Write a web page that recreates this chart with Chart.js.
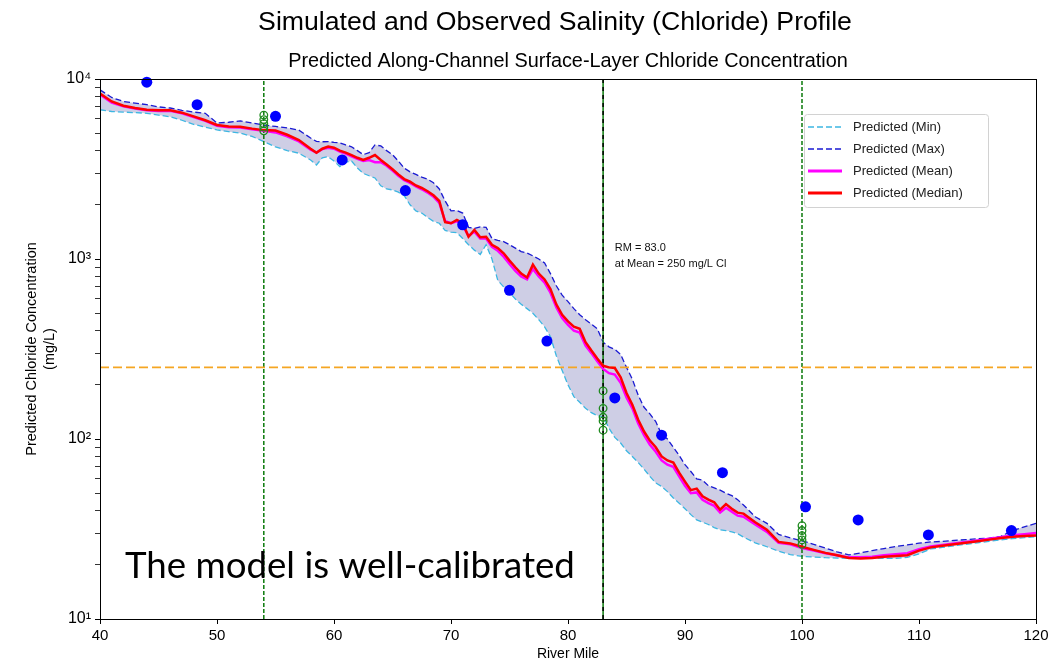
<!DOCTYPE html>
<html>
<head>
<meta charset="utf-8">
<script src="https://cdn.jsdelivr.net/npm/chart.js@4.4.1/dist/chart.umd.min.js"></script>
<style>
  html, body { margin: 0; padding: 0; background: #fff; }
  #chart { display: block; }
</style>
</head>
<body>
<canvas id="chart" width="1061" height="667"></canvas>
<script>
"use strict";

// river miles (shared by the predicted series)
const miles = [
  40, 41, 42, 43, 44, 45, 46, 47, 48, 49, 50, 51, 52, 53, 54, 55, 56, 57, 58,
  58.5, 59, 59.5, 60, 60.5, 61, 61.5, 62, 62.5, 63, 63.5, 64, 64.5, 65, 65.5, 66, 66.5, 67, 67.5, 68, 68.5, 69, 69.5, 70,
  70.5, 71, 71.5, 72, 72.5, 73, 73.5, 74, 74.5, 75, 75.5, 76, 76.5, 77, 77.5, 78, 78.5, 79, 79.5, 80, 80.5, 81, 81.5, 82,
  82.5, 83, 83.5, 84, 84.5, 85, 85.5, 86, 86.5, 87, 87.5, 88, 88.5, 89, 89.5, 90, 90.5, 91, 91.5, 92, 92.5, 93, 93.5, 94, 94.5, 95,
  96, 97, 98, 99, 100, 101, 102, 103, 104, 105, 106, 107, 108, 109, 110, 111, 112, 113, 114, 115, 116, 117, 118, 119, 120
];

const predMin = [
  6750, 6600, 6550, 6500, 6450, 6300, 6170, 5900, 5600, 5400, 5210, 5100, 5000, 4800, 4490, 4200, 4000, 3870, 3550,
  3330, 3650, 3700, 3500, 3260, 3450, 3500, 3200, 2990, 2900, 2820, 2550, 2450, 2420, 2350, 2250, 2000, 1850, 1800, 1700, 1620, 1580, 1440, 1410,
  1400, 1300, 1200, 1120, 1060, 1200, 1000, 760, 700, 650, 600, 560, 530, 499, 460, 420, 370, 290, 240, 200, 172, 160, 148, 140,
  135, 133, 115, 102, 95, 86, 80, 74, 68, 62, 57, 54.5, 51, 47, 44, 41, 38, 35.5, 34.5, 33.5, 32.2, 31.3, 31, 30.5, 29.8, 28.5,
  26.5, 25.2, 23.8, 22.8, 22.3, 22.1, 21.9, 21.8, 21.7, 21.7, 21.7, 21.7, 21.7, 22.0, 23.0, 24.5, 25.0, 25.5, 26.0, 26.5, 27.0, 27.5, 28.0, 28.3, 28.7
];

const predMax = [
  8700, 7900, 7500, 7350, 7200, 7000, 6900, 6700, 6550, 6450, 5700, 5750, 5850, 5700, 5550, 5450, 5350, 5200, 4700,
  4500, 4480, 4490, 4450, 4420, 4300, 4200, 4000, 3800, 3900, 4300, 4250, 4000, 3800, 3500, 3200, 3050, 2950, 2850, 2780, 2650, 2450, 2100, 1850,
  1860, 1800, 1500, 1480, 1510, 1500, 1300, 1270, 1250, 1200, 1150, 1100, 1080, 1040, 1000, 950, 830, 710, 630, 580, 530, 490, 460, 435,
  410, 345, 325, 315, 295, 250, 215, 175, 150, 138, 125, 106, 100, 90, 81, 72, 66, 60, 59, 55, 53.5, 52, 50, 48.5, 46, 43,
  37, 34, 29.5, 28.2, 27.2, 26.0, 24.8, 23.6, 22.7, 23.3, 24.0, 24.6, 25.3, 25.8, 26.4, 26.8, 27.0, 27.3, 27.6, 27.9, 28.1, 28.8, 31.0, 32.5, 34.0
];

const predMean = [
  8200, 7400, 7050, 6850, 6700, 6650, 6650, 6450, 6150, 5850, 5500, 5400, 5380, 5250, 5150, 5050, 4800, 4500, 4050,
  3900, 4080, 4150, 4100, 3950, 3850, 3720, 3600, 3500, 3550, 3450, 3450, 3300, 3100, 2900, 2740, 2650, 2530, 2440, 2340, 2220, 2050, 1620, 1580,
  1620, 1540, 1340, 1420, 1300, 1300, 1170, 1110, 1030, 940, 860, 800, 770, 880, 800, 740, 650, 540, 470, 430, 400, 390, 330, 300,
  270, 245, 232, 228, 205, 170, 148, 122, 105, 93, 85, 76, 72, 70, 62, 55, 50, 50.5, 46, 44, 42.5, 39, 41.5, 39.5, 37.5, 37,
  33.5, 30.5, 26.5, 26.0, 24.8, 24.0, 23.2, 22.6, 22.0, 22.0, 22.2, 22.6, 22.9, 23.2, 24.4, 25.3, 25.8, 26.3, 26.8, 27.3, 27.9, 28.5, 29.2, 29.6, 30.0
];

const predMedian = [
  8300, 7500, 7100, 6900, 6750, 6700, 6700, 6500, 6200, 5900, 5550, 5450, 5430, 5300, 5200, 5170, 4900, 4580, 4100,
  3890, 4100, 4210, 4150, 4000, 3900, 3780, 3650, 3550, 3650, 3780, 3550, 3350, 3150, 2950, 2780, 2690, 2560, 2480, 2380, 2260, 2100, 1600, 1580,
  1650, 1580, 1330, 1450, 1320, 1330, 1200, 1150, 1076, 980, 900, 830, 790, 930, 830, 770, 680, 560, 490, 450, 421, 410, 345, 310,
  280, 255, 250, 248, 220, 180, 155, 128, 110, 98, 90, 80, 76, 74, 65, 58, 52, 53, 48, 46, 44.5, 40.5, 43.5, 41, 39, 38.5,
  34.5, 31.3, 26.8, 26.3, 25.2, 24.2, 23.3, 22.6, 21.8, 21.7, 21.8, 22.2, 22.4, 22.6, 24.0, 25.0, 25.5, 26.0, 26.5, 27.0, 27.6, 28.2, 28.6, 28.9, 29.1
];

// observed chloride (filled dots)
const obsMiles = [44.0, 48.3, 55.0, 60.7, 66.1, 71.0, 75.0, 78.2, 84.0, 88.0, 93.2, 100.3, 104.8, 110.8, 117.9];
const obsValues = [9600, 7200, 6200, 3550, 2400, 1550, 670, 350, 169, 105, 65, 42, 35.5, 29.3, 31];

// station samples (open circles)
const stnMiles = [54, 54, 54, 54, 54, 83, 83, 83, 83, 83, 100, 100, 100, 100, 100];
const stnValues = [6300, 5950, 5650, 5400, 5150, 185, 148, 132, 126, 112, 33, 31, 29, 27.5, 26];

const stationLines = [54, 100];
const crossMile = 83;
const threshold = 250;

const xTicks = [40, 50, 60, 70, 80, 90, 100, 110, 120];
const yDecades = [10, 100, 1000, 10000];
const yLabels = ["10\u00b9", "10\u00b2", "10\u00b3", "10\u2074"];

const FONT = "'Liberation Sans', Arial, sans-serif";

const pts = (xs, ys) => xs.map((x, i) => ({ x: x, y: ys[i] }));
const vline = (m) => [{ x: m, y: 10 }, { x: m, y: 10000 }];

const datasets = [
  {
    label: "Predicted (Max)", data: pts(miles, predMax), legendRank: 2,
    borderColor: "#1a1ad2", borderWidth: 1.3, borderDash: [6, 3], pointRadius: 0,
    fill: "+1", backgroundColor: "rgba(120,120,182,0.36)", order: 10
  },
  {
    label: "Predicted (Min)", data: pts(miles, predMin), legendRank: 1,
    borderColor: "#3db7e2", borderWidth: 1.3, borderDash: [6, 3], pointRadius: 0,
    fill: false, order: 9
  },
  {
    label: "station", data: vline(stationLines[0]), borderColor: "#0b7a0b", borderWidth: 1.5,
    borderDash: [4, 2], pointRadius: 0, fill: false, order: 8
  },
  {
    label: "station", data: vline(stationLines[1]), borderColor: "#0b7a0b", borderWidth: 1.5,
    borderDash: [4, 2], pointRadius: 0, fill: false, order: 8
  },
  {
    label: "cross", data: vline(crossMile), borderColor: "#0b7a0b", borderWidth: 1.5,
    pointRadius: 0, fill: false, order: 8
  },
  {
    label: "cross", data: vline(crossMile), borderColor: "#000", borderWidth: 1.5,
    borderDash: [4, 4], pointRadius: 0, fill: false, order: 7
  },
  {
    label: "threshold", data: [{ x: 40, y: threshold }, { x: 120, y: threshold }],
    borderColor: "#f5a623", borderWidth: 1.8, borderDash: [9, 4], pointRadius: 0, fill: false, order: 6
  },
  {
    label: "Predicted (Mean)", data: pts(miles, predMean), legendRank: 3,
    borderColor: "#ff00ff", borderWidth: 2.5, pointRadius: 0, fill: false, order: 5
  },
  {
    label: "Predicted (Median)", data: pts(miles, predMedian), legendRank: 4,
    borderColor: "#ff0000", borderWidth: 2.5, pointRadius: 0, fill: false, order: 4
  },
  {
    label: "stations", data: pts(stnMiles, stnValues), showLine: false,
    pointRadius: 3.8, pointBorderWidth: 1.3, pointBorderColor: "#1f8a1f",
    pointBackgroundColor: "rgba(0,0,0,0)", clip: false, order: 2
  },
  {
    label: "observed", data: pts(obsMiles, obsValues), showLine: false,
    pointRadius: 5.5, pointBorderWidth: 0, pointBackgroundColor: "#0000ff",
    clip: false, order: 1
  }
];

function fitFont(ctx, text, family, width) {
  ctx.font = "40px " + family;
  const size = 40 * width / ctx.measureText(text).width;
  ctx.font = size.toFixed(2) + "px " + family;
}

const decor = {
  id: "decor",
  afterDraw(chart) {
    const { ctx, chartArea: a, scales } = chart;
    ctx.save();

    // top and right spines
    ctx.strokeStyle = "#000";
    ctx.lineWidth = 1;
    ctx.strokeRect(a.left + 0.5, a.top + 0.5, a.right - a.left, a.bottom - a.top);

    ctx.fillStyle = "#000";
    ctx.textBaseline = "middle";
    ctx.textAlign = "center";
    const t1 = "Simulated and Observed Salinity (Chloride) Profile";
    fitFont(ctx, t1, FONT, 594);
    ctx.fillText(t1, 555, 23);
    const t2 = "Predicted Along-Channel Surface-Layer Chloride Concentration";
    fitFont(ctx, t2, FONT, 560);
    ctx.fillText(t2, (a.left + a.right) / 2, 62);

    // crossing annotation
    ctx.textAlign = "left";
    ctx.font = "11px " + FONT;
    ctx.fillStyle = "#111";
    const ax = scales.x.getPixelForValue(crossMile + 1);
    ctx.fillText("RM = 83.0", ax, 248);
    ctx.fillText("at Mean = 250 mg/L Cl", ax, 264);

    // legend
    const lx = 804, ly = 114, lw = 184, lh = 93;
    ctx.beginPath();
    ctx.roundRect(lx + 0.5, ly + 0.5, lw, lh, 3);
    ctx.fillStyle = "rgba(255,255,255,0.85)";
    ctx.fill();
    ctx.strokeStyle = "#d2d2d2";
    ctx.stroke();
    const items = chart.data.datasets.filter(d => d.legendRank).sort((p, q) => p.legendRank - q.legendRank);
    ctx.font = "13px " + FONT;
    items.forEach((d, i) => {
      const y = 127 + i * 22;
      ctx.beginPath();
      ctx.setLineDash(d.borderDash || []);
      ctx.strokeStyle = d.borderColor;
      ctx.lineWidth = d.borderDash ? 1.6 : 3;
      ctx.moveTo(808, y);
      ctx.lineTo(842, y);
      ctx.stroke();
      ctx.setLineDash([]);
      ctx.fillStyle = "#222";
      ctx.fillText(d.label, 853, y);
    });

    // slide caption
    ctx.textBaseline = "alphabetic";
    ctx.fillStyle = "#000";
    const cap = "The model is well-calibrated";
    fitFont(ctx, cap, "Lato, 'Open Sans', sans-serif", 450);
    ctx.fillText(cap, 125, 578);

    ctx.restore();
  }
};

new Chart(document.getElementById("chart"), {
  type: "line",
  data: { datasets: datasets },
  options: {
    responsive: false,
    animation: false,
    layout: { padding: { left: 0, right: 25, top: 79, bottom: 0 } },
    plugins: {
      legend: { display: false },
      tooltip: { enabled: false },
      filler: { drawTime: "beforeDatasetsDraw" }
    },
    elements: { line: { tension: 0 } },
    scales: {
      x: {
        type: "linear", min: 40, max: 120,
        afterBuildTicks: (s) => { s.ticks = xTicks.map(v => ({ value: v })); },
        ticks: { color: "#000", font: { family: FONT, size: 15 }, padding: 3, maxRotation: 0 },
        grid: { drawOnChartArea: false, drawTicks: true, tickLength: 5, tickColor: "#000" },
        border: { display: true, color: "#000", width: 1 },
        title: { display: true, text: "River Mile", color: "#000", font: { family: FONT, size: 14 }, padding: { top: 0, bottom: 4 } },
        afterFit: (s) => { s.height = 48; }
      },
      y: {
        type: "logarithmic", min: 10, max: 10000,
        afterBuildTicks: (s) => {
          const t = [];
          yDecades.forEach((d, i) => {
            t.push({ value: d, major: true });
            if (i < yDecades.length - 1) {
              for (let k = 2; k <= 9; k++) t.push({ value: d * k, major: false });
            }
          });
          s.ticks = t;
        },
        ticks: {
          autoSkip: false, color: "#000", font: { family: FONT, size: 16 }, padding: 4,
          callback: (v) => { const i = yDecades.indexOf(v); return i >= 0 ? yLabels[i] : ""; }
        },
        grid: {
          drawOnChartArea: false, drawTicks: true, tickLength: 5, tickColor: "#000",
          tickWidth: (c) => (c.tick && c.tick.major ? 1 : 0.8)
        },
        border: { display: true, color: "#000", width: 1 },
        title: {
          display: true, text: ["Predicted Chloride Concentration", "(mg/L)"], color: "#000",
          font: { family: FONT, size: 14.5, lineHeight: 1.25 }, padding: { top: 23, bottom: 0 }
        },
        afterFit: (s) => { s.width = 100; }
      }
    }
  },
  plugins: [decor]
});
</script>
</body>
</html>
